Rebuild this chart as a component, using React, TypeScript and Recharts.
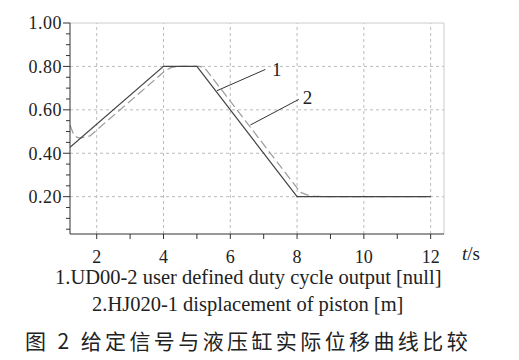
import React from "react";
import { LineChart, Line, XAxis, YAxis, ReferenceLine, ReferenceDot } from "recharts";

// curve 1: duty cycle signal, curve 2: piston displacement
const signalT = [1.2, 4, 5, 8, 12];
const signalV = [0.427, 0.8, 0.8, 0.2, 0.2];
const pistonT = [1.2, 1.3, 1.4, 1.5, 1.8, 4.05, 4.2, 4.4, 5.1, 5.25, 8.1, 8.3, 8.5, 8.8, 12];
const pistonV = [0.53, 0.49, 0.474, 0.47, 0.48, 0.78, 0.793, 0.8, 0.8, 0.79, 0.22, 0.208, 0.203, 0.2, 0.2];

const xTicks = [2, 3, 4, 5, 6, 7, 8, 9, 10, 11, 12];
const xGrid = [2, 4, 6, 8, 10, 12];
const yTicks = [
  0.05, 0.1, 0.15, 0.2, 0.25, 0.3, 0.35, 0.4, 0.45, 0.5, 0.55, 0.6, 0.65,
  0.7, 0.75, 0.8, 0.85, 0.9, 0.95, 1.0,
];
const yGrid = [0.2, 0.4, 0.6, 0.8];

const signal = signalT.map((t, i) => ({ t, v: signalV[i] }));
const piston = pistonT.map((t, i) => ({ t, v: pistonV[i] }));

const serif = "'Liberation Serif', 'Times New Roman', serif";

function YTick(props: any) {
  const { x, y, payload } = props;
  const v = payload.value;
  const major = Math.abs(v * 5 - Math.round(v * 5)) < 1e-6;
  return (
    <g>
      <line x1={x} x2={x - (major ? 7 : 4)} y1={y} y2={y} stroke="#333" />
      {major && (
        <text x={x - 8} y={y} dy="0.35em" textAnchor="end" fill="#222"
          fontSize={18} fontFamily={serif} letterSpacing={0.5}>
          {v.toFixed(2)}
        </text>
      )}
    </g>
  );
}

export default function App() {
  return (
    <div style={{ position: "absolute", left: 0, top: 0, width: 519, height: 360, background: "#fff" }}>
      <LineChart width={519} height={275} margin={{ top: 23, right: 75, left: 10, bottom: 1 }}>
        {xGrid.map((x) => (
          <ReferenceLine key={"gx" + x} x={x} stroke="#bbb" strokeDasharray="3 3" />
        ))}
        {yGrid.map((y) => (
          <ReferenceLine key={"gy" + y} y={y} stroke="#bbb" strokeDasharray="3 3" />
        ))}
        <ReferenceLine y={1} stroke="#ccc" />
        <ReferenceLine x={12.4} stroke="#ccc" />
        <XAxis
          type="number"
          dataKey="t"
          domain={[1.2, 12.4]}
          ticks={xTicks}
          allowDataOverflow
          interval={0}
          tickFormatter={(v: number) => (v % 2 === 0 ? String(v) : "")}
          stroke="#333"
          tickSize={5}
          tickMargin={11}
          height={40}
          tick={{ fill: "#222", fontSize: 18, fontFamily: serif }}
        />
        <YAxis
          type="number"
          dataKey="v"
          domain={[0.028, 1.0]}
          ticks={yTicks}
          allowDataOverflow
          interval={0}
          width={60}
          stroke="#333"
          tickLine={false}
          tickSize={0}
          tickMargin={0}
          tick={<YTick />}
        />
        <Line data={piston} dataKey="v" type="linear" stroke="#9a9a9a" strokeWidth={1.2}
          strokeDasharray="9 4" dot={false} isAnimationActive={false} />
        <Line data={signal} dataKey="v" type="linear" stroke="#444" strokeWidth={1.2}
          dot={false} isAnimationActive={false} />
        <ReferenceLine segment={[{ x: 5.6, y: 0.688 }, { x: 7.05, y: 0.786 }]} stroke="#333" />
        <ReferenceLine segment={[{ x: 6.6, y: 0.53 }, { x: 8.05, y: 0.648 }]} stroke="#333" />
        <ReferenceDot x={7.39} y={0.786} r={0} stroke="none" fill="none"
          label={{ value: "1", position: "center", fill: "#222", fontSize: 19, fontFamily: serif }} />
        <ReferenceDot x={8.31} y={0.657} r={0} stroke="none" fill="none"
          label={{ value: "2", position: "center", fill: "#222", fontSize: 19, fontFamily: serif }} />
      </LineChart>
      <div style={{ position: "absolute", left: 462, top: 245, fontFamily: serif, fontSize: 19, color: "#222", lineHeight: "18px" }}>
        <i>t</i>/s
      </div>
      <div style={{ position: "absolute", left: 55, top: 267, fontFamily: serif, fontSize: 20.5, color: "#222", lineHeight: "20px", whiteSpace: "nowrap" }}>
        1.UD00-2 user defined duty cycle output [null]
      </div>
      <div style={{ position: "absolute", left: 92, top: 294, fontFamily: serif, fontSize: 20.5, color: "#222", lineHeight: "20px", whiteSpace: "nowrap" }}>
        2.HJ020-1 displacement of piston [m]
      </div>
      <div style={{ position: "absolute", left: 25, top: 328, fontFamily: "'Noto Sans CJK SC', sans-serif", fontSize: 21, letterSpacing: 3.4, color: "#222", lineHeight: "24px", whiteSpace: "nowrap" }}>
        图 2 给定信号与液压缸实际位移曲线比较
      </div>
    </div>
  );
}
